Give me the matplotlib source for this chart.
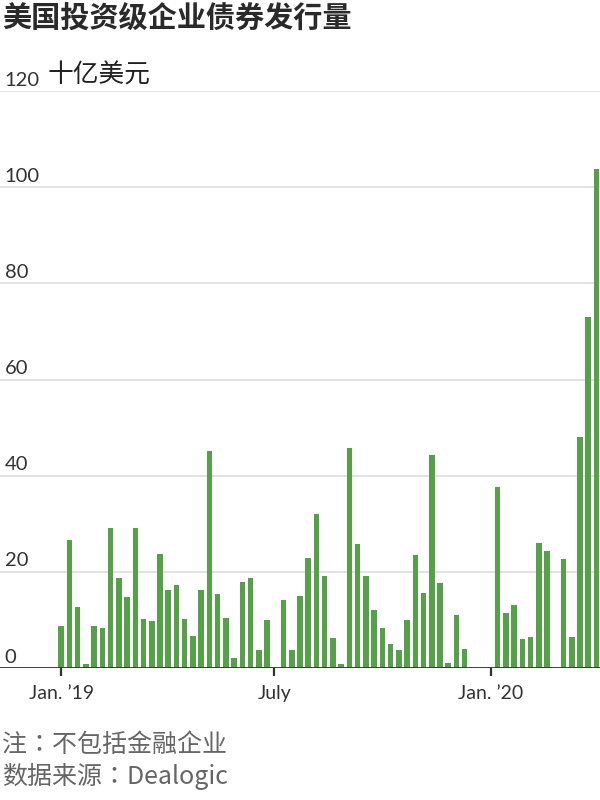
import matplotlib
matplotlib.use('Agg')
import matplotlib.pyplot as plt
import matplotlib.transforms as mtransforms
import pandas as pd

# Datos: emisión semanal (mil millones de USD), desde la semana del 1 ene 2019
semanas = pd.date_range('2019-01-01', periods=66, freq='7D')
emision = [8.8, 26.7, 12.6, 0.9, 8.8, 8.4, 29.2, 18.8, 14.7, 29.2,
           10.1, 9.7, 23.8, 16.3, 17.2, 10.1, 6.7, 16.3, 45.1, 15.4,
           10.4, 2.1, 17.9, 18.8, 3.8, 10.0, 0, 14.2, 3.8, 15.0,
           22.9, 32.1, 19.2, 6.3, 0.8, 45.8, 25.8, 19.2, 12.1, 8.3,
           5.0, 3.8, 10.0, 23.6, 15.6, 44.4, 17.7, 1.1, 11.0, 4.0,
           0, 0, 0, 37.7, 11.5, 13.1, 6.1, 6.5, 26.1, 24.4,
           0, 22.7, 6.5, 48.1, 73.1, 103.9]
y_ticks = [0, 20, 40, 60, 80, 100, 120]
x_ticks = pd.to_datetime(['2019-01-01', '2019-07-01', '2020-01-01'])
x_labels = ['Jan. ’19', 'July', 'Jan. ’20']

titulo = '美国投资级企业债券发行量'
unidad = '十亿美元'
nota = '注：不包括金融企业'
fuente = '数据来源：Dealogic'

cjk = ['Noto Sans CJK SC', 'DejaVu Sans']
cjk_nota = ['Noto Sans CJK TC', 'DejaVu Sans']
num = ['Lato', 'DejaVu Sans']

fig = plt.figure(figsize=(6, 8), dpi=100)
ax = fig.add_axes([0, 0.165, 1.0, 0.721])

ax.bar(semanas, emision, width=4.7, color='#54a147', zorder=2)

ax.set_xlim(pd.Timestamp('2018-11-10'), pd.Timestamp('2020-04-03'))
ax.set_ylim(0, 120)

for s in ax.spines.values():
    s.set_visible(False)
ax.set_yticks(y_ticks)
ax.tick_params(axis='y', left=False, labelleft=False)
ax.grid(axis='y', color='#e2e2e2', lw=1.4, zorder=0)
ax.axhline(0, color='#333333', lw=2, zorder=3)

ax.set_xticks(x_ticks)
ax.set_xticklabels(x_labels, fontsize=14, family=num, color='#333333')
ax.tick_params(axis='x', length=6, width=1.6, color='#333333', pad=6)

# Etiquetas del eje y dentro del gráfico
trans = mtransforms.blended_transform_factory(ax.transAxes, ax.transData)
for v in y_ticks:
    ax.text(0.008, v + 0.5, str(v), transform=trans, ha='left', va='bottom',
            fontsize=14.5, family=num, color='#333333')
ax.text(0.08, 120.6, unidad, transform=trans, ha='left', va='bottom',
        fontsize=18.5, family=cjk, fontweight='medium', color='#222222')

fig.text(0.003, 0.977, titulo, ha='left', va='center', fontsize=21,
         family=cjk, fontweight='bold', color='#2a2a2a')
fig.text(0.003, 0.069, nota, ha='left', va='center', fontsize=18,
         family=cjk_nota, fontweight='medium', color='#666666')
fig.text(0.003, 0.029, fuente, ha='left', va='center', fontsize=18,
         family=cjk_nota, fontweight='medium', color='#666666')

fig.savefig('out.png', dpi=100)
